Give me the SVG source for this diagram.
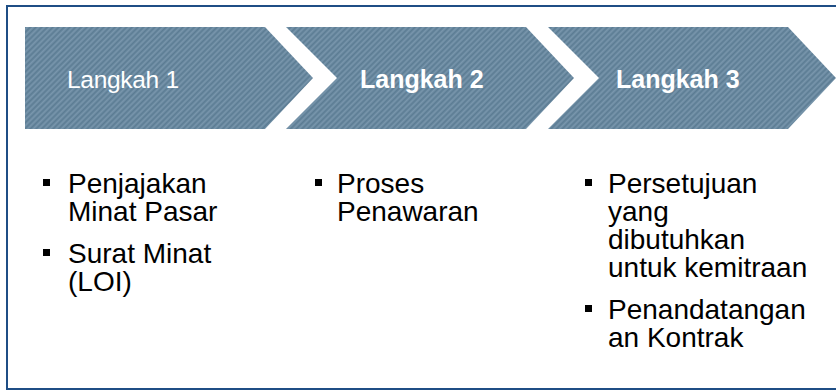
<svg xmlns="http://www.w3.org/2000/svg" width="836" height="391" viewBox="0 0 836 391">
<defs>
<pattern id="tex" width="4" height="4" patternUnits="userSpaceOnUse" patternTransform="rotate(45)">
<rect width="4" height="4" fill="#6a8aa1"/>
<rect width="1.3" height="4" fill="#5c7c93"/>
<rect x="2" width="1.2" height="4" fill="#7996ac"/>
</pattern>
</defs>
<style>
.chev{fill:url(#tex)}
.hd{font-family:"Liberation Sans",Arial,sans-serif;font-size:24.5px;fill:#ffffff}
.b{font-weight:bold;font-size:25px}
.bl{font-family:"Liberation Sans",Arial,sans-serif;font-size:28px;fill:#000000}
.sq{fill:#000000}
</style>
<rect x="7" y="6" width="840" height="383" fill="#ffffff" stroke="#1f4e85" stroke-width="2"/>
<g id="connectors"></g>
<g id="step1">
<polygon class="chev" points="25,27 265,27 313,78 265,129 25,129"/>
<text class="hd" x="67" y="88" letter-spacing="-0.3">Langkah 1</text>
</g>
<g id="step2">
<polygon class="chev" points="286,27 526,27 574,78 526,129 286,129 337,78"/>
<text class="hd b" x="360" y="88">Langkah 2</text>
</g>
<g id="step3">
<polygon class="chev" points="548,27 788,27 836,78 788,129 548,129 599,78"/>
<text class="hd b" x="616" y="88">Langkah 3</text>
</g>
<g id="list1">
<rect class="sq" x="43" y="179" width="7" height="7"/>
<text class="bl" x="68" y="193">Penjajakan</text>
<text class="bl" x="68" y="221">Minat Pasar</text>
<rect class="sq" x="43" y="249" width="7" height="7"/>
<text class="bl" x="68" y="263">Surat Minat</text>
<text class="bl" x="68" y="291">(LOI)</text>
</g>
<g id="list2">
<rect class="sq" x="315" y="179" width="7" height="7"/>
<text class="bl" x="337" y="193">Proses</text>
<text class="bl" x="337" y="221">Penawaran</text>
</g>
<g id="list3">
<rect class="sq" x="585" y="179" width="7" height="7"/>
<text class="bl" x="608" y="193">Persetujuan</text>
<text class="bl" x="608" y="221">yang</text>
<text class="bl" x="608" y="249">dibutuhkan</text>
<text class="bl" x="608" y="277">untuk kemitraan</text>
<rect class="sq" x="585" y="305" width="7" height="7"/>
<text class="bl" x="608" y="319">Penandatangan</text>
<text class="bl" x="608" y="347">an Kontrak</text>
</g>
</svg>
